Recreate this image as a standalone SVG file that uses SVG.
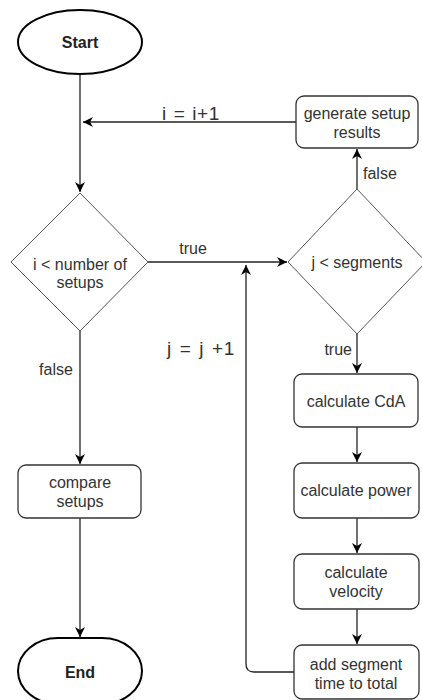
<svg xmlns="http://www.w3.org/2000/svg" width="422" height="700" viewBox="0 0 422 700">
<defs>
<marker id="arr" viewBox="0 0 10 10" refX="10" refY="5" markerWidth="10" markerHeight="10" markerUnits="userSpaceOnUse" orient="auto">
<path d="M0,0 L10,5 L0,10 L3,5 Z" fill="#000"/>
</marker>
<style>
.term{fill:#fff;stroke:#000;stroke-width:2}
.box{fill:#fff;stroke:#333;stroke-width:1.3}
.dia{fill:#fff;stroke:#555;stroke-width:1}
.t{font-family:"Liberation Sans",Arial,sans-serif;font-size:16px;fill:#333;text-anchor:middle}
.b{font-weight:bold;fill:#222}
.lbl{font-family:"Liberation Sans",Arial,sans-serif;font-size:16px;fill:#333}
.big{font-size:19px;letter-spacing:0.6px}
.c{fill:none;stroke:#222;stroke-width:1.3}
</style>
</defs>
<rect width="422" height="700" fill="#fff"/>
<g id="connectors">
<path class="c" d="M80,75 V192" marker-end="url(#arr)"/>
<path class="c" d="M296,122 H83" marker-end="url(#arr)"/>
<path class="c" d="M148,262 H287" marker-end="url(#arr)"/>
<path class="c" d="M357,189 V149" marker-end="url(#arr)"/>
<path class="c" d="M357,334 V373" marker-end="url(#arr)"/>
<path class="c" d="M357,427 V462" marker-end="url(#arr)"/>
<path class="c" d="M357,518 V553" marker-end="url(#arr)"/>
<path class="c" d="M357,609 V644" marker-end="url(#arr)"/>
<path class="c" d="M294,672 H254 Q246,672 246,664 V265" marker-end="url(#arr)"/>
<path class="c" d="M80,331 V464" marker-end="url(#arr)"/>
<path class="c" d="M80,518 V637" marker-end="url(#arr)"/>
<text class="lbl big" x="162" y="120" word-spacing="1">i = i+1</text>
<text class="lbl" x="193" y="254" text-anchor="middle">true</text>
<text class="lbl" x="363" y="179">false</text>
<text class="lbl" x="352" y="355" text-anchor="end">true</text>
<text class="lbl big" x="167" y="355" word-spacing="2">j = j +1</text>
<text class="lbl" x="56" y="375" text-anchor="middle">false</text>
</g>
<g id="start">
<ellipse class="term" cx="80" cy="42" rx="62" ry="32"/>
<text class="t b" x="80" y="48">Start</text>
</g>
<g id="cond-setups">
<path class="dia" d="M80,193 L148,262 L80,331 L11,262 Z"/>
<text class="t" x="80" y="270">i &lt; number of</text>
<text class="t" x="80" y="288">setups</text>
</g>
<g id="gen-results">
<rect class="box" x="296" y="96" width="122" height="52" rx="8"/>
<text class="t" x="357" y="119">generate setup</text>
<text class="t" x="357" y="138">results</text>
</g>
<g id="cond-segments">
<path class="dia" d="M357,189 L426,262 L357,334 L288,262 Z"/>
<text class="t" x="357" y="268">j &lt; segments</text>
</g>
<g id="calc-cda">
<rect class="box" x="294" y="374" width="124" height="53" rx="8"/>
<text class="t" x="356" y="407">calculate CdA</text>
</g>
<g id="calc-power">
<rect class="box" x="294" y="463" width="125" height="55" rx="8"/>
<text class="t" x="356" y="496">calculate power</text>
</g>
<g id="calc-velocity">
<rect class="box" x="294" y="554" width="125" height="55" rx="8"/>
<text class="t" x="356" y="578">calculate</text>
<text class="t" x="356" y="597">velocity</text>
</g>
<g id="add-segment">
<rect class="box" x="294" y="645" width="125" height="54" rx="8"/>
<text class="t" x="356" y="670">add segment</text>
<text class="t" x="356" y="689">time to total</text>
</g>
<g id="compare">
<rect class="box" x="18" y="465" width="123" height="53" rx="8"/>
<text class="t" x="80" y="488">compare</text>
<text class="t" x="80" y="507">setups</text>
</g>
<g id="end">
<rect class="term" x="18" y="638" width="124" height="66" rx="40" ry="33"/>
<text class="t b" x="80" y="678">End</text>
</g>
</svg>
